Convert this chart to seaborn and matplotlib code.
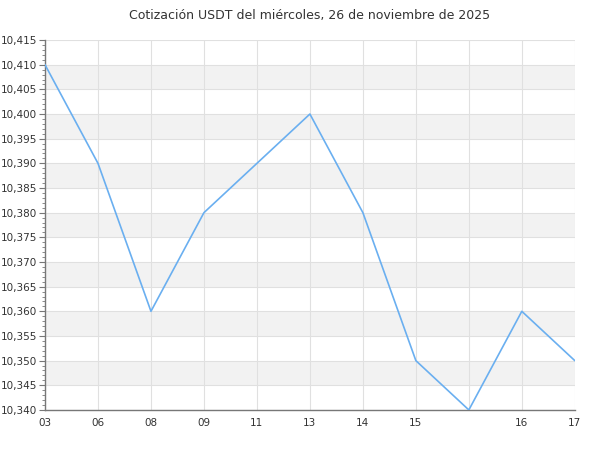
import numpy as np
import pandas as pd
import seaborn as sns
import matplotlib.pyplot as plt
from matplotlib.ticker import MultipleLocator, FuncFormatter

# hourly quotes (blank label = repeated hour without tick text)
hours = ['03', '06', '08', '09', '11', '13', '14', '15', '', '16', '17']
prices = [10.410, 10.390, 10.360, 10.380, 10.390, 10.400, 10.380, 10.350, 10.340, 10.360, 10.350]

df = pd.DataFrame({'pos': range(len(hours)), 'price': prices})

sns.set_theme(style="white")
plt.rcParams['font.family'] = ['DejaVu Sans']

fig, ax = plt.subplots(figsize=(6, 4.5), dpi=100)
fig.subplots_adjust(left=0.075, right=0.958, top=0.911, bottom=0.089)

# alternating bands
for lo in np.arange(10.345, 10.41, 0.010):
    ax.axhspan(lo, lo + 0.005, color='#f2f2f2', zorder=0, lw=0)

sns.lineplot(data=df, x='pos', y='price', color='#6aaff0', lw=1.2, ax=ax, zorder=3)

ax.set_xlim(0, len(hours) - 1)
ax.set_ylim(10.340, 10.415)
ax.set_xticks(df['pos'])
ax.set_xticklabels(hours)
ax.yaxis.set_major_locator(MultipleLocator(0.005))
ax.yaxis.set_minor_locator(MultipleLocator(0.001))
ax.yaxis.set_major_formatter(FuncFormatter(lambda v, p: f'{v:.3f}'.replace('.', ',')))

ax.grid(True, which='major', color='#e0e0e0', lw=0.8, zorder=1)
ax.set_axisbelow(True)
ax.set_xlabel('')
ax.set_ylabel('')

for s in ['top', 'right']:
    ax.spines[s].set_visible(False)
for s in ['left', 'bottom']:
    ax.spines[s].set_color('#777777')
    ax.spines[s].set_linewidth(1)

ax.tick_params(axis='y', which='major', length=4, width=0.8, color='#777777', labelsize=7.5, labelcolor='#333333', pad=1.5, left=True)
ax.tick_params(axis='y', which='minor', length=2.5, width=0.6, color='#777777', left=True)
ax.tick_params(axis='x', length=0, labelsize=7.5, labelcolor='#333333', pad=6)

ax.set_title('Cotización USDT del miércoles, 26 de noviembre de 2025', fontsize=9, color='#333333', pad=15)

fig.savefig('out.png', dpi=100)
